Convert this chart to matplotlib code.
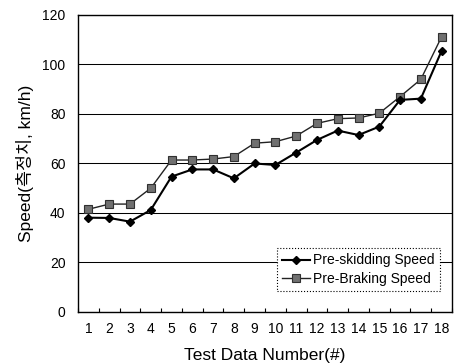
import numpy as np
import matplotlib.pyplot as plt

plt.rcParams['font.family'] = ['Liberation Sans', 'Noto Sans CJK KR']

test_no = list(range(1, 19))
pre_skid = [38.1, 38.0, 36.5, 41.2, 54.7, 57.6, 57.6, 54.0, 60.0, 59.4,
            64.4, 69.5, 73.3, 71.5, 74.9, 85.7, 86.2, 105.5]
pre_brake = [41.5, 43.6, 43.6, 50.0, 61.4, 61.4, 61.8, 62.8, 68.2, 68.8,
             71.1, 76.2, 78.1, 78.4, 80.3, 87.0, 94.0, 111.2]

fig = plt.figure(figsize=(4.6, 3.64), dpi=100)
ax = fig.add_axes([0.1696, 0.1429, 0.813, 0.8159])

x = np.arange(len(test_no))
ax.plot(x, pre_skid, '-', color='black', lw=1.5, marker='D', ms=4.5,
        mfc='black', mec='black', label='Pre-skidding Speed', zorder=4)
ax.plot(x, pre_brake, '-', color='#222222', lw=1.0, marker='s', ms=5.5,
        mfc='#707070', mec='#303030', mew=0.8, label='Pre-Braking Speed', zorder=3)

ax.set_xlim(-0.5, len(test_no) - 0.5)
ax.set_ylim(0, 120)
ax.set_yticks([0, 20, 40, 60, 80, 100, 120])
ax.set_xticks(x)
ax.set_xticklabels([str(n) for n in test_no])
ax.set_xticks(np.arange(-0.5, len(test_no)), minor=True)
ax.tick_params(axis='x', which='major', length=0, labelsize=10, pad=7)
ax.tick_params(axis='x', which='minor', length=3, direction='in', width=0.8)
ax.tick_params(axis='y', length=0, labelsize=10, pad=9)
ax.yaxis.grid(True, color='black', lw=0.75)
ax.set_axisbelow(True)
for s in ax.spines.values():
    s.set_linewidth(1.0)

ax.set_xlabel('Test Data Number(#)', fontsize=12.5, labelpad=9)
ax.set_ylabel('Speed(측정치, km/h)', fontsize=12.5, labelpad=6)

leg = ax.legend(loc='lower right', bbox_to_anchor=(0.968, 0.07), fontsize=10,
                frameon=True, fancybox=False, handlelength=2.0,
                borderpad=0.4, labelspacing=0.3, handletextpad=0.2,
                borderaxespad=0)
fr = leg.get_frame()
fr.set_edgecolor('black')
fr.set_linestyle(':')
fr.set_linewidth(0.8)
fr.set_alpha(1)

fig.savefig('out.png', dpi=100)
